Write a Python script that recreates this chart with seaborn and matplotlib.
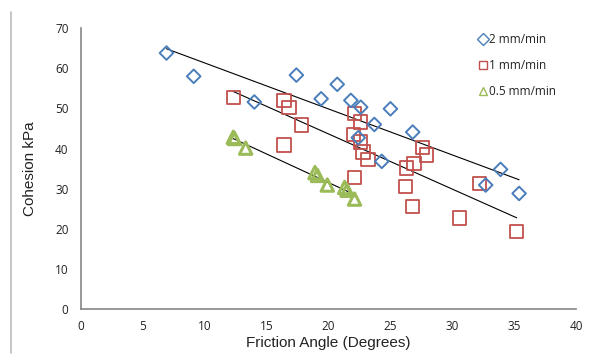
import numpy as np
import pandas as pd
import matplotlib
matplotlib.use("Agg")
import matplotlib.pyplot as plt
from matplotlib.lines import Line2D
from matplotlib.ticker import MultipleLocator
import seaborn as sns

# 2 mm/min
fast_x = [6.9, 9.1, 14.0, 17.4, 19.4, 20.7, 21.8, 22.6, 25.0, 23.7, 26.8, 22.4, 24.3, 33.9, 32.7, 35.4]
fast_y = [63.8, 58.0, 51.6, 58.3, 52.4, 56.0, 52.0, 50.3, 49.9, 46.0, 44.1, 42.7, 36.8, 34.8, 30.9, 28.8]

# 1 mm/min
mid_x = [12.3, 16.4, 16.8, 17.8, 16.4, 22.1, 22.6, 22.0, 22.6, 22.8, 23.2, 22.1,
         26.3, 26.9, 27.6, 27.9, 26.2, 26.8, 30.6, 32.2, 35.2]
mid_y = [52.7, 52.0, 50.2, 45.9, 40.9, 48.7, 46.6, 43.5, 41.6, 39.1, 37.3, 32.8,
         35.2, 36.3, 40.2, 38.4, 30.5, 25.5, 22.7, 31.3, 19.3]

# 0.5 mm/min
slow_x = [12.3, 12.4, 13.3, 18.9, 19.1, 19.9, 21.3, 21.5, 22.1]
slow_y = [42.8, 42.5, 40.1, 34.0, 33.3, 30.9, 30.3, 29.6, 27.4]

labels = ["2 mm/min", "1 mm/min", "0.5 mm/min"]
colors = ["#4a7ebb", "#c0504d", "#9bbb59"]
markers = ["D", "s", "^"]
sizes = [48, 95, 80]
widths = [1.4, 1.3, 2.2]
layers = [4, 3, 3]

sns.set_theme(style="white")
plt.rcParams["font.family"] = ["Liberation Sans", "DejaVu Sans"]
tick_font = ["Open Sans", "DejaVu Sans"]

fig = plt.figure(figsize=(5.92, 3.61), dpi=100)
ax = fig.add_axes([0.137, 0.144, 0.836, 0.778])

series = [(fast_x, fast_y), (mid_x, mid_y), (slow_x, slow_y)]
for (xs, ys), c, m, s, w, z in zip(series, colors, markers, sizes, widths, layers):
    df = pd.DataFrame({"x": xs, "y": ys})
    sns.regplot(x="x", y="y", data=df, scatter=False, ci=None, ax=ax,
                line_kws={"color": "black", "lw": 0.8, "zorder": 2})
    ax.scatter(df["x"], df["y"], marker=m, s=s, facecolors="none",
               edgecolors=c, linewidths=w, zorder=z)

ax.set_xlim(0, 40)
ax.set_ylim(0, 70)
ax.xaxis.set_major_locator(MultipleLocator(5))
ax.xaxis.set_minor_locator(MultipleLocator(1))
ax.yaxis.set_major_locator(MultipleLocator(10))
ax.yaxis.set_minor_locator(MultipleLocator(2))
ax.tick_params(which="both", direction="in", length=3.5, width=0.8,
               color="#868686", labelsize=8.5, labelcolor="#222222")
ax.tick_params(axis="y", which="both", pad=9)
ax.tick_params(axis="x", which="both", pad=8)
for lab in ax.get_xticklabels() + ax.get_yticklabels():
    lab.set_family(tick_font)
for side in ["top", "right"]:
    ax.spines[side].set_visible(False)
for side in ["left", "bottom"]:
    ax.spines[side].set_color("#868686")
    ax.spines[side].set_linewidth(1.2)

ax.set_xlabel("Friction Angle (Degrees)", fontsize=11, color="#222222", labelpad=2)
ax.set_ylabel("Cohesion kPa", fontsize=11, color="#222222", labelpad=13)

handles = [Line2D([], [], marker=m, ls="none", markerfacecolor="white",
                  markeredgecolor=c, markersize=6, markeredgewidth=1)
           for m, c in zip(markers, colors)]
leg = ax.legend(handles, labels, loc="upper left", bbox_to_anchor=(0.778, 1.02),
                frameon=False, handletextpad=0.05, labelspacing=1.1,
                handlelength=1.0, prop={"family": tick_font, "size": 8.5})
for t in leg.get_texts():
    t.set_color("#222222")

fig.add_artist(Line2D([0.019, 0.019], [0.022, 0.967], color="#bbbbbb", lw=1.2))

fig.savefig("out.png", dpi=100)
